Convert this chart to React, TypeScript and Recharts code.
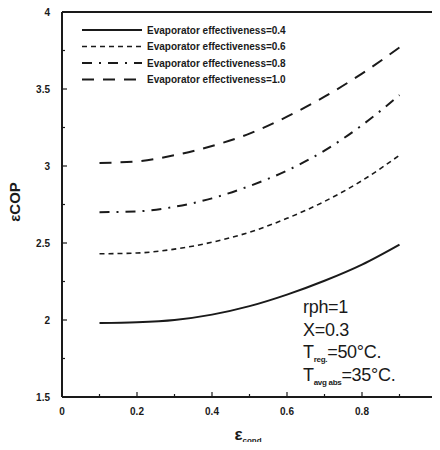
import React from 'react';
import { LineChart, Line, XAxis, YAxis, ReferenceLine, Legend, Label } from 'recharts';

const condEff = [0.1, 0.2, 0.3, 0.4, 0.5, 0.6, 0.7, 0.8, 0.9];
const evap04 = [1.98, 1.985, 2.0, 2.035, 2.09, 2.165, 2.255, 2.36, 2.49];
const evap06 = [2.43, 2.435, 2.46, 2.505, 2.57, 2.66, 2.77, 2.905, 3.07];
const evap08 = [2.7, 2.705, 2.735, 2.79, 2.87, 2.97, 3.1, 3.265, 3.46];
const evap10 = [3.02, 3.03, 3.07, 3.13, 3.21, 3.32, 3.45, 3.6, 3.77];

const xTicks = [0, 0.1, 0.2, 0.3, 0.4, 0.5, 0.6, 0.7, 0.8, 0.9, 1];
const xTickLabels = ['0', '0.2', '0.4', '0.6', '0.8', '1'];
const yTicks = [1.5, 1.75, 2, 2.25, 2.5, 2.75, 3, 3.25, 3.5, 3.75, 4];
const yTickLabels = ['1.5', '2', '2.5', '3', '3.5', '4'];

const seriesNames = [
  'Evaporator effectiveness=0.4',
  'Evaporator effectiveness=0.6',
  'Evaporator effectiveness=0.8',
  'Evaporator effectiveness=1.0',
];

const data = condEff.map((x, i) => ({
  x,
  e04: evap04[i],
  e06: evap06[i],
  e08: evap08[i],
  e10: evap10[i],
}));

const ink = '#1a1a1a';
const lineStyles = [
  { key: 'e04', dash: undefined, width: 2 },
  { key: 'e06', dash: '5 4', width: 1.6 },
  { key: 'e08', dash: '10 7 2 7', width: 2 },
  { key: 'e10', dash: '12 9', width: 2 },
];

const isMajor = (v: number, step: number) => Math.abs(v / step - Math.round(v / step)) < 1e-6;

const XTick = (props: any) => {
  const { x, y, payload } = props;
  const major = isMajor(payload.value, 0.2);
  const idx = Math.round(payload.value / 0.2);
  return (
    <g>
      <line x1={x} x2={x} y1={y} y2={y - (major ? 5 : 3)} stroke={ink} strokeWidth={1.2} />
      {major && (
        <text x={x} y={y + 18} textAnchor="middle" fontSize={10} fontWeight="bold" fill={ink}>
          {xTickLabels[idx]}
        </text>
      )}
    </g>
  );
};

const YTick = (props: any) => {
  const { x, y, payload } = props;
  const major = isMajor(payload.value, 0.5);
  const idx = Math.round((payload.value - 1.5) / 0.5);
  return (
    <g>
      <line x1={x} x2={x + (major ? 5 : 3)} y1={y} y2={y} stroke={ink} strokeWidth={1.2} />
      {major && (
        <text x={x - 12} y={y + 4} textAnchor="end" fontSize={10} fontWeight="bold" fill={ink}>
          {yTickLabels[idx]}
        </text>
      )}
    </g>
  );
};

const LegendBox = () => (
  <svg width={260} height={70}>
    {seriesNames.map((name, i) => {
      const s = lineStyles[i];
      const cy = 6 + i * 16.5;
      return (
        <g key={name}>
          <line x1={2} x2={62} y1={cy} y2={cy} stroke={ink} strokeWidth={s.width} strokeDasharray={s.dash} />
          <text x={67} y={cy + 3.5} fontSize={10} fontWeight="bold" fill={ink}>
            {name}
          </text>
        </g>
      );
    })}
  </svg>
);

const sub = { fontSize: 8, fontWeight: 'bold' as const, position: 'relative' as const, top: 4, lineHeight: 0 };

export default function App() {
  return (
    <div style={{ position: 'relative', width: 440, height: 450, margin: -8, background: '#fff', fontFamily: 'Liberation Sans, Arial, sans-serif' }}>
      <LineChart width={440} height={450} data={data} margin={{ top: 12, right: 3, left: 0, bottom: 0 }}>
        <XAxis
          dataKey="x"
          type="number"
          domain={[0, 1]}
          ticks={xTicks}
          tick={<XTick />}
          tickSize={0}
          tickMargin={0}
          height={53}
          axisLine={{ stroke: ink, strokeWidth: 2 }}
          tickLine={false}
        >
          <Label
            content={() => (
              <text x={248} y={440} textAnchor="middle" fill={ink} fontWeight="bold">
                <tspan fontSize={17}>ε</tspan>
                <tspan fontSize={8} dy={3}>cond</tspan>
              </text>
            )}
          />
        </XAxis>
        <YAxis
          type="number"
          domain={[1.5, 4]}
          ticks={yTicks}
          tick={<YTick />}
          tickSize={0}
          tickMargin={0}
          width={62}
          axisLine={{ stroke: ink, strokeWidth: 2 }}
          tickLine={false}
        >
          <Label
            content={() => (
              <text x={20} y={202} textAnchor="middle" transform="rotate(-90 20 202)" fontSize={15} fontWeight="bold" fill={ink}>
                εCOP
              </text>
            )}
          />
        </YAxis>
        <ReferenceLine y={4} stroke={ink} strokeWidth={2} />
        <ReferenceLine x={1} stroke={ink} strokeWidth={2} />
        <Legend
          layout="vertical"
          verticalAlign="middle"
          align="center"
          content={() => <LegendBox />}
          wrapperStyle={{ position: 'absolute', top: 24, left: 80, width: 260, height: 70 }}
        />
        {lineStyles.map((s, i) => (
          <Line
            key={s.key}
            type="monotone"
            dataKey={s.key}
            name={seriesNames[i]}
            stroke={ink}
            strokeWidth={s.width}
            strokeDasharray={s.dash}
            dot={false}
            isAnimationActive={false}
          />
        ))}
      </LineChart>
      <div style={{ position: 'absolute', left: 303, top: 296, fontSize: 18, lineHeight: '22.5px', color: ink, letterSpacing: -0.3 }}>
        <div>rph=1</div>
        <div>X=0.3</div>
        <div>
          T<span style={sub}>reg.</span>=50°C.
        </div>
        <div>
          T<span style={sub}>avg abs</span>=35°C.
        </div>
      </div>
    </div>
  );
}
